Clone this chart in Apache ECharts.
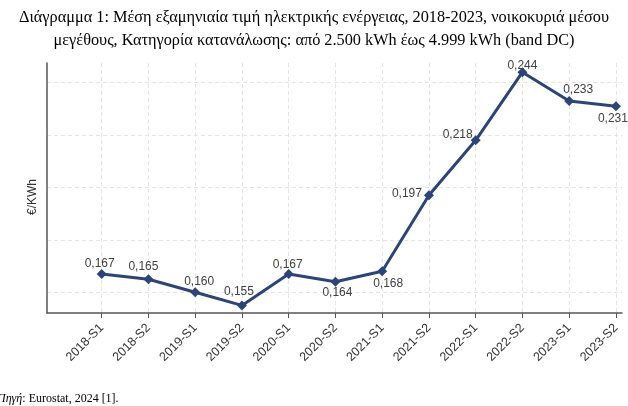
<!DOCTYPE html>
<html>
<head>
<meta charset="utf-8">
<script src="https://cdn.jsdelivr.net/npm/echarts@6/dist/echarts.min.js"></script>
<style>
  html, body { margin: 0; padding: 0; background: #fff; }
  #chart { width: 628px; height: 406px; }
</style>
</head>
<body>
<div id="chart"></div>
<script>
const periods = ['2018-S1', '2018-S2', '2019-S1', '2019-S2', '2020-S1', '2020-S2',
  '2021-S1', '2021-S2', '2022-S1', '2022-S2', '2023-S1', '2023-S2'];
const prices = [0.167, 0.165, 0.160, 0.155, 0.167, 0.164, 0.168, 0.197, 0.218, 0.244, 0.233, 0.231];
const yTicks = [0.16, 0.18, 0.20, 0.22, 0.24];

// where each value label sits relative to its marker (px)
const labelOffsets = [[-2, -10], [-5, -13], [4, -11], [-3, -14], [-1, -9], [2, 11],
  [6, 12], [-22, -2], [-18, -6], [0, -6], [9, -11], [-3, 12]];

const lineColor = '#2c4576';
const axisColor = '#555';

const chart = echarts.init(document.getElementById('chart'));

const option = {
  animation: false,
  title: [{
    text: 'Διάγραμμα 1: Μέση εξαμηνιαία τιμή ηλεκτρικής ενέργειας, 2018-2023, νοικοκυριά μέσου\nμεγέθους, Κατηγορία κατανάλωσης: από 2.500 kWh έως 4.999 kWh (band DC)',
    left: 'center',
    top: 1,
    padding: [5, 0, 5, 10],
    textStyle: {
      fontFamily: 'Liberation Serif',
      fontSize: 16.3,
      fontWeight: 'normal',
      color: '#000',
      lineHeight: 23
    }
  }, {
    text: '{i|Πηγή}: Eurostat, 2024 [1].',
    left: -3,
    top: 393,
    padding: 0,
    textStyle: {
      fontFamily: 'Liberation Serif',
      fontSize: 12,
      fontWeight: 'normal',
      color: '#000',
      rich: {
        i: { fontFamily: 'Liberation Serif', fontSize: 12, fontStyle: 'italic', color: '#000' }
      }
    }
  }],
  grid: {
    left: 47,
    right: 6,
    top: 63,
    bottom: 93,
    containLabel: false
  },
  xAxis: {
    type: 'value',
    min: -1.17,
    max: 11.13,
    axisLine: { show: true, onZero: false, lineStyle: { color: axisColor, width: 1.5 } },
    axisTick: {
      show: true,
      length: 5,
      customValues: periods.map((p, i) => i),
      lineStyle: { color: axisColor }
    },
    axisLabel: {
      customValues: periods.map((p, i) => i),
      formatter: v => periods[Math.round(v)],
      rotate: 45,
      margin: 13,
      fontFamily: 'Liberation Sans',
      fontSize: 12.5,
      color: '#333'
    },
    splitLine: {
      show: true,
      lineStyle: { color: '#e4e4e4', type: [4, 3], width: 1 }
    }
  },
  yAxis: {
    type: 'value',
    min: 0.1521,
    max: 0.2475,
    name: '€/KWh',
    nameLocation: 'middle',
    nameGap: 8,
    nameTextStyle: {
      fontFamily: 'Liberation Sans',
      fontSize: 12,
      color: '#333',
      padding: [0, 0, 0, -18]
    },
    axisLine: { show: true, onZero: false, lineStyle: { color: axisColor, width: 1.5 } },
    axisTick: { show: false, customValues: yTicks },
    axisLabel: { show: false, customValues: yTicks },
    splitLine: {
      show: true,
      lineStyle: { color: '#e4e4e4', type: [4, 3], width: 1 }
    }
  },
  series: [{
    type: 'line',
    data: prices.map((v, i) => ({
      value: [i, v],
      label: { offset: labelOffsets[i] }
    })),
    symbol: 'diamond',
    symbolSize: 10,
    lineStyle: { color: lineColor, width: 3 },
    itemStyle: { color: lineColor },
    label: {
      show: true,
      position: 'inside',
      align: 'center',
      verticalAlign: 'middle',
      formatter: p => p.value[1].toFixed(3).replace('.', ','),
      fontFamily: 'Liberation Sans',
      fontSize: 12,
      color: '#404040'
    }
  }]
};

chart.setOption(option);
</script>
</body>
</html>
